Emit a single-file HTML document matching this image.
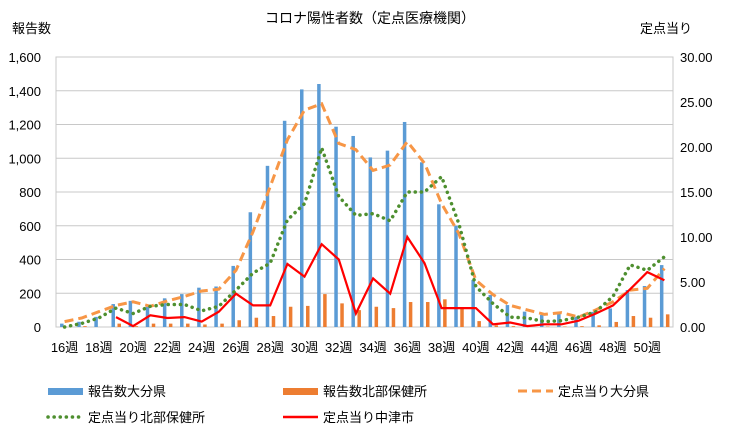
<!DOCTYPE html>
<html><head><meta charset="utf-8"><style>
body{margin:0;background:#fff;}
svg{font-family:"Liberation Sans","Noto Sans CJK JP",sans-serif;}
</style></head><body>
<svg id="c" width="740" height="440" viewBox="0 0 740 440">
<rect width="740" height="440" fill="#fff"/>
<text x="370" y="23" font-size="14" text-anchor="middle" fill="#000">コロナ陽性者数（定点医療機関）</text>
<text x="12" y="33" font-size="13" fill="#000">報告数</text>
<text x="640" y="33" font-size="13" fill="#000">定点当り</text>
<g id="grid"></g><g id="bars"></g><g id="lines"></g><g id="axes"></g>
<g id="legend">
<rect x="48" y="388" width="35" height="7" fill="#5b9bd5"/>
<text x="88" y="396" font-size="13">報告数大分県</text>
<rect x="283" y="388" width="35" height="7" fill="#ed7d31"/>
<text x="323" y="396" font-size="13">報告数北部保健所</text>
<line x1="518" y1="391" x2="553" y2="391" stroke="#f79646" stroke-width="3" stroke-dasharray="9,5"/>
<text x="558" y="396" font-size="13">定点当り大分県</text>
<line x1="48" y1="417" x2="83" y2="417" stroke="#4e8f2f" stroke-width="3.5" stroke-dasharray="0.1,6" stroke-linecap="round"/>
<text x="88" y="422" font-size="13">定点当り北部保健所</text>
<line x1="283" y1="417" x2="318" y2="417" stroke="#ff0000" stroke-width="2.5"/>
<text x="323" y="422" font-size="13">定点当り中津市</text>
</g>
</svg>
<script>
const weeks=[16,17,18,19,20,21,22,23,24,25,26,27,28,29,30,31,32,33,34,35,36,37,38,39,40,41,42,43,44,45,46,47,48,49,50,51];
const oitaReports=[20,31,60,136,155,120,170,195,233,240,362,680,955,1222,1408,1440,1187,1132,1005,1045,1215,976,727,600,279,190,130,91,71,90,61,90,110,219,243,367];
const northReports=[0,5,0,20,5,20,20,20,15,20,40,55,65,120,125,195,140,100,120,112,148,148,164,118,35,10,5,0,3,3,5,10,30,65,55,75];
const oitaRate=[0.6,1.0,1.7,2.4,2.8,2.3,2.9,3.4,4.0,4.2,6.3,10.6,15.6,20.8,24.1,24.8,20.4,19.7,17.4,18.0,20.6,18.2,13.7,10.4,5.2,3.6,2.4,1.9,1.4,1.6,1.1,1.9,2.8,4.1,4.3,6.5];
const northRate=[0,0.4,1.0,2.1,1.5,2.3,2.5,2.5,1.8,2.3,4.1,6.0,7.1,11.9,13.7,19.9,14.5,12.4,12.6,11.8,15.0,15.0,16.7,11.5,4.5,2.6,1.1,1.0,0.6,0.7,1.1,1.7,3.4,6.9,6.3,7.8];
const nakatsuRate=[null,null,null,1.1,0.1,1.3,1.0,1.1,0.6,1.7,3.7,2.4,2.4,7.0,5.6,9.2,7.5,1.5,5.4,3.7,10.0,7.1,2.1,2.1,2.1,0.3,0.5,0.1,0.3,0.3,0.7,1.5,2.4,4.2,6.1,5.2];
const leftTicks=[0,200,400,600,800,1000,1200,1400,1600];
const rightTicks=[0,5,10,15,20,25,30];
const NS="http://www.w3.org/2000/svg";
const X0=56,X1=673,Y0=327,Y1=57;
const band=(X1-X0)/weeks.length;
const xc=i=>X0+band*(i+0.5);
const yL=v=>Y0-(v/1600)*(Y0-Y1);
const yR=v=>Y0-(v/30)*(Y0-Y1);
function mk(tag,attrs,parent){const e=document.createElementNS(NS,tag);for(const k in attrs)e.setAttribute(k,attrs[k]);document.getElementById(parent).appendChild(e);return e;}
leftTicks.forEach(t=>{
 const l=mk('line',{x1:X0,x2:X1,y1:yL(t),y2:yL(t),stroke:'#c8c8c8','stroke-width':1},'grid');
 
 
 const tx=mk('text',{x:41,y:yL(t)+5,'font-size':13,'text-anchor':'end'},'axes');tx.textContent=t.toLocaleString('en-US');
 
 
});
rightTicks.forEach(t=>{
 const tx=mk('text',{x:680,y:yR(t)+5,'font-size':13},'axes');tx.textContent=t.toFixed(2);
 
 
});
const fr=mk('rect',{x:X0,y:Y1,width:X1-X0,height:Y0-Y1,fill:'none',stroke:'#c8c8c8'},'grid');


weeks.forEach((w,i)=>{
 const b=mk('rect',{x:xc(i)-4.5,y:yL(oitaReports[i]),width:3.5,height:Y0-yL(oitaReports[i]),fill:'#5b9bd5'},'bars');
 
 
 const o=mk('rect',{x:xc(i)+1.5,y:yL(northReports[i]),width:3.5,height:Y0-yL(northReports[i]),fill:'#ed7d31'},'bars');
 
 
 if(i%2===0){const tx=mk('text',{x:xc(i),y:352,'font-size':13,'text-anchor':'middle'},'axes');tx.textContent=w+'週';
 
 }
});
function path(arr){let d='',s=false;arr.forEach((v,i)=>{if(v===null){s=false;return;}d+=(s?'L':'M')+xc(i).toFixed(1)+','+yR(v).toFixed(1);s=true;});return d;}
const p1=mk('path',{d:path(oitaRate),fill:'none',stroke:'#f79646','stroke-width':3,'stroke-dasharray':'9,5'},'lines');


const p2=mk('path',{d:path(northRate),fill:'none',stroke:'#4e8f2f','stroke-width':3.5,'stroke-dasharray':'0.1,6','stroke-linecap':'round'},'lines');


const p3=mk('path',{d:path(nakatsuRate),fill:'none',stroke:'#ff0000','stroke-width':2.2},'lines');


</script>
</body></html>
